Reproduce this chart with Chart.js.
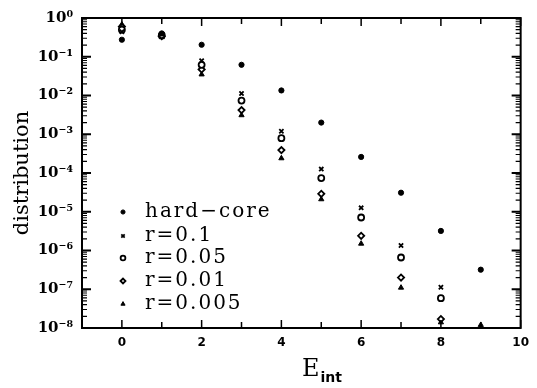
<!DOCTYPE html>
<html>
<head>
<meta charset="utf-8">
<script src="https://cdn.jsdelivr.net/npm/chart.js@4.4.1/dist/chart.umd.min.js"></script>
<style>
  html, body { margin: 0; padding: 0; background: #fff; }
  #wrap { width: 537px; height: 388px; }
</style>
</head>
<body>
<div id="wrap"><canvas id="dist"></canvas></div>
<script>
// data
const energies = [0, 1, 2, 3, 4, 5, 6, 7, 8, 9];
const seriesNames = ['hard\u2212core', 'r=0.1', 'r=0.05', 'r=0.01', 'r=0.005'];

const hardCore = [0.275, 0.40, 0.204, 0.062, 0.0135, 2.0e-3, 2.6e-4, 3.1e-5, 3.2e-6, 3.2e-7];
const r010 = [0.44, 0.38, 0.079, 0.0112, 1.2e-3, 1.26e-4, 1.26e-5, 1.35e-6, 1.12e-7];
const r005 = [0.50, 0.36, 0.062, 7.4e-3, 7.9e-4, 7.4e-5, 7.1e-6, 6.6e-7, 5.9e-8];
const r001 = [0.60, 0.34, 0.047, 4.2e-3, 3.9e-4, 2.9e-5, 2.4e-6, 2.0e-7, 1.7e-8];
const r0005 = [0.68, 0.32, 0.035, 3.1e-3, 2.4e-4, 2.1e-5, 1.5e-6, 1.1e-7, 1.4e-8, 1.2e-8];

const xTickValues = [0, 2, 4, 6, 8, 10];
const yTickValues = [1, 1e-1, 1e-2, 1e-3, 1e-4, 1e-5, 1e-6, 1e-7, 1e-8];
const yTickLabels = ['10\u2070', '10\u207B\u00B9', '10\u207B\u00B2', '10\u207B\u00B3', '10\u207B\u2074',
                     '10\u207B\u2075', '10\u207B\u2076', '10\u207B\u2077', '10\u207B\u2078'];

const toPoints = (vals) => vals.map((v, i) => ({ x: energies[i], y: v }));

const styles = [
  { pointStyle: 'circle', radius: 2.6, fill: true, width: 1 },
  { pointStyle: 'crossRot', radius: 3, fill: false, width: 1.8 },
  { pointStyle: 'circle', radius: 3, fill: false, width: 1.8 },
  { pointStyle: 'rectRot', radius: 3.1, fill: false, width: 1.8 },
  { pointStyle: 'triangle', radius: 3, fill: true, width: 1 }
];

const allSeries = [hardCore, r010, r005, r001, r0005];

const datasets = allSeries.map((vals, i) => ({
  label: seriesNames[i],
  data: toPoints(vals),
  showLine: false,
  pointStyle: styles[i].pointStyle,
  pointRadius: styles[i].radius,
  pointBorderWidth: styles[i].width,
  pointBorderColor: '#000',
  pointBackgroundColor: styles[i].fill ? '#000' : '#fff'
}));

// frame, inward ticks, legend and x title
const framePlugin = {
  id: 'frame',
  afterDraw(chart) {
    const ctx = chart.ctx;
    const a = chart.chartArea;
    const xs = chart.scales.x, ys = chart.scales.y;
    ctx.save();
    ctx.strokeStyle = '#000';

    // x ticks, every integer
    ctx.lineWidth = 1.5;
    for (let e = -1; e <= 10; e++) {
      const px = xs.getPixelForValue(e);
      const len = (e % 2 === 0) ? 8 : 6;
      ctx.beginPath();
      ctx.moveTo(px, a.bottom); ctx.lineTo(px, a.bottom - len);
      ctx.moveTo(px, a.top); ctx.lineTo(px, a.top + len);
      ctx.stroke();
    }

    // y ticks, decades + minors
    for (let d = 0; d >= -8; d--) {
      for (let m = 1; m <= 9; m++) {
        const v = m * Math.pow(10, d - 1);
        if (v < 1e-8 || v > 1) continue;
        const py = ys.getPixelForValue(v);
        const len = m === 1 ? 9 : 5;
        ctx.lineWidth = m === 1 ? 2 : 1.2;
        ctx.beginPath();
        ctx.moveTo(a.left, py); ctx.lineTo(a.left + len, py);
        ctx.moveTo(a.right, py); ctx.lineTo(a.right - len, py);
        ctx.stroke();
      }
    }

    // box
    ctx.lineWidth = 2;
    ctx.strokeRect(a.left, a.top, a.right - a.left, a.bottom - a.top);

    // legend
    const rowY = [212, 236, 258, 281, 304];
    ctx.font = '20px "DejaVu Serif"';
    ctx.letterSpacing = '2px';
    ctx.textBaseline = 'middle';
    chart.data.datasets.forEach((ds, i) => {
      const y = rowY[i];
      ctx.lineWidth = ds.pointBorderWidth;
      ctx.strokeStyle = '#000';
      ctx.fillStyle = ds.pointBackgroundColor;
      Chart.helpers.drawPoint(ctx, {
        pointStyle: ds.pointStyle,
        radius: ds.pointRadius * 0.8,
        rotation: 0,
        borderWidth: ds.pointBorderWidth
      }, 123, y);
      ctx.fillStyle = '#000';
      ctx.fillText(ds.label, 145, y);
    });
    ctx.letterSpacing = '0px';

    // x axis title with subscript
    ctx.textBaseline = 'alphabetic';
    ctx.textAlign = 'left';
    ctx.font = '24px "DejaVu Serif"';
    const ex = 302;
    ctx.fillText('E', ex, 376);
    const w = ctx.measureText('E').width;
    ctx.font = 'bold 14px "DejaVu Sans"';
    ctx.fillText('int', ex + w + 1, 382);
    ctx.restore();
  }
};

const ctx = document.getElementById('dist').getContext('2d');
const chart = new Chart(ctx, {
  type: 'scatter',
  data: { datasets: datasets },
  options: {
    responsive: true,
    maintainAspectRatio: false,
    animation: false,
    layout: { padding: { top: 16, right: 10, left: 0, bottom: 0 } },
    plugins: {
      legend: { display: false },
      tooltip: { enabled: false }
    },
    scales: {
      x: {
        type: 'linear',
        min: -1,
        max: 10,
        afterBuildTicks: (scale) => { scale.ticks = xTickValues.map(v => ({ value: v })); },
        afterFit: (scale) => { scale.height = 60; },
        grid: { display: false, drawTicks: false },
        border: { display: false },
        ticks: {
          padding: 8,
          color: '#000',
          font: { family: 'DejaVu Sans', size: 12, weight: 'bold' },
          maxRotation: 0
        }
      },
      y: {
        type: 'logarithmic',
        min: 1e-8,
        max: 1,
        afterBuildTicks: (scale) => { scale.ticks = yTickValues.map(v => ({ value: v })); },
        afterFit: (scale) => { scale.width = 82; },
        grid: { display: false, drawTicks: false },
        border: { display: false },
        ticks: {
          padding: 9,
          color: '#000',
          font: { family: 'DejaVu Serif', size: 15, weight: 'bold' },
          callback: (v) => {
            const i = yTickValues.findIndex(t => Math.abs(Math.log10(t) - Math.log10(v)) < 1e-6);
            return i >= 0 ? yTickLabels[i] : '';
          }
        },
        title: {
          display: true,
          text: 'distribution',
          color: '#000',
          font: { family: 'DejaVu Serif', size: 21 },
          padding: { top: 10, bottom: 0 }
        }
      }
    }
  },
  plugins: [framePlugin]
});
</script>
</body>
</html>
